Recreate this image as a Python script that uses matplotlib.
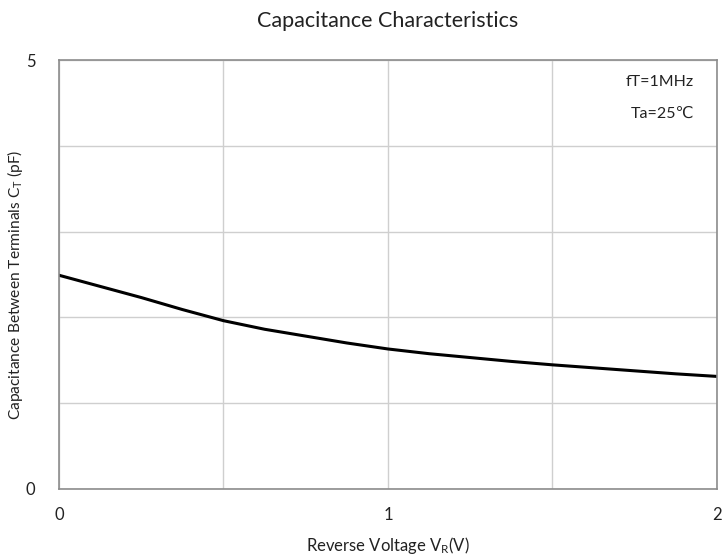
import matplotlib
matplotlib.use("Agg")
import matplotlib.pyplot as plt
import numpy as np

# Data
voltage = np.array([0, 0.125, 0.25, 0.375, 0.5, 0.625, 0.75, 0.875, 1.0,
                    1.125, 1.25, 1.375, 1.5, 1.625, 1.75, 1.875, 2.0])
capacitance = np.array([2.49, 2.36, 2.23, 2.09, 1.96, 1.86, 1.78, 1.70, 1.63,
                        1.575, 1.53, 1.485, 1.445, 1.41, 1.375, 1.34, 1.31])

x_labels = ['0', '', '1', '', '2']
y_labels = ['0', '', '', '', '', '5']

plt.rcParams['font.family'] = ['Lato', 'DejaVu Sans']
plt.rcParams['mathtext.fontset'] = 'custom'
plt.rcParams['mathtext.rm'] = 'Lato'
plt.rcParams['mathtext.it'] = 'Lato'

fig = plt.figure(figsize=(7.22, 5.56), dpi=100)
ax = fig.add_axes([0.0817, 0.121, 0.9113, 0.771])

ax.plot(voltage, capacitance, color='black', linewidth=2.2, solid_joinstyle='round')

ax.set_xlim(0, 2)
ax.set_ylim(0, 5)
ax.set_xticks(np.arange(0, 2.01, 0.5))
ax.set_xticklabels(x_labels)
ax.set_yticks(np.arange(0, 5.01, 1))
ax.set_yticklabels(y_labels)
ax.tick_params(length=0, labelsize=12, colors='#222222', pad=13)
ax.tick_params(axis='y', pad=17)
ax.grid(True, color='#cfcfcf', linewidth=1)
for s in ax.spines.values():
    s.set_color('#8c8c8c')
    s.set_linewidth(1.2)

ax.set_title('Capacitance Characteristics', fontsize=15.5, pad=24, color='#222222')
ax.set_xlabel('Reverse Voltage V$_\\mathrm{R}$(V)', fontsize=12, color='#222222', labelpad=9)
ax.set_ylabel('Capacitance Between Terminals C$_\\mathrm{T}$ (pF)', fontsize=11.2, color='#222222')
ax.yaxis.set_label_coords(-0.052, 0.475)

ax.text(0.965, 0.965, 'fT=1MHz', transform=ax.transAxes, ha='right', va='top', fontsize=11.5, color='#222222')
ax.text(0.965, 0.89, 'Ta=25\u2103', transform=ax.transAxes, ha='right', va='top', fontsize=11.5, color='#222222')

fig.savefig('out.png', dpi=100)
